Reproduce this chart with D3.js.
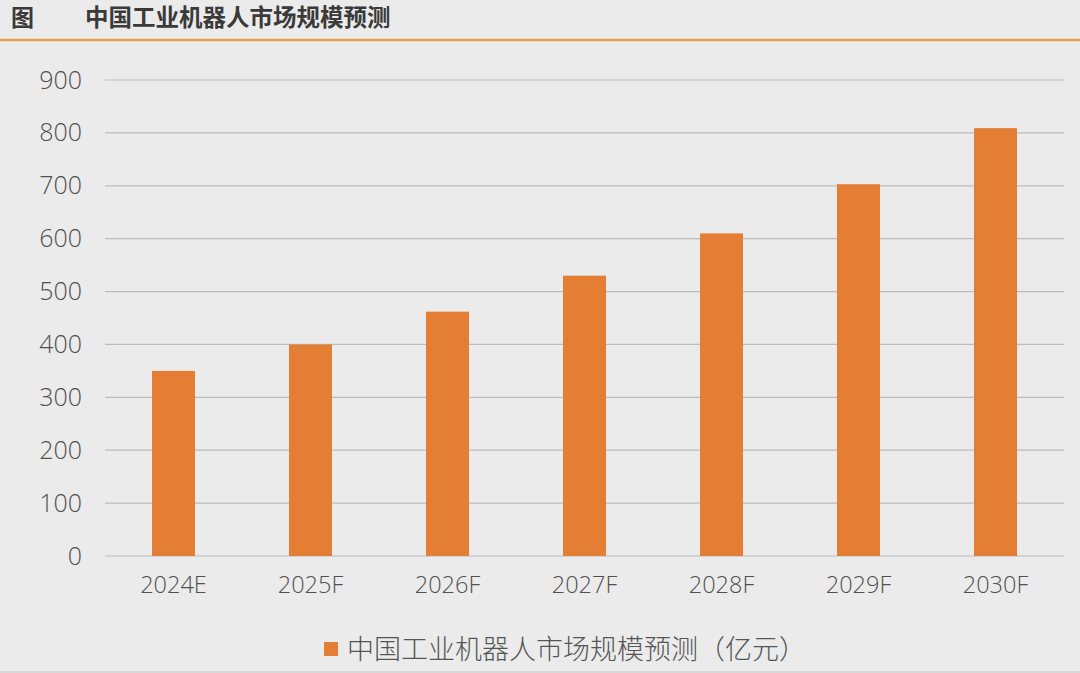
<!DOCTYPE html>
<html>
<head>
<meta charset="utf-8">
<script src="https://cdn.jsdelivr.net/npm/d3@7"></script>
<style>
  body { margin: 0; background: #ebebeb; }
  svg { display: block; }
  .tick text { font-family: 'Open Sans', 'Noto Sans', sans-serif; font-weight: 300; fill: #505050; }
</style>
</head>
<body>
<script>
	// DATA
	const categories = ['2024E', '2025F', '2026F', '2027F', '2028F', '2029F', '2030F'];
	const values = [350, 400, 462, 530, 610, 703, 809];
	const yTicks = [0, 100, 200, 300, 400, 500, 600, 700, 800, 900];
	const title = '中国工业机器人市场规模预测';
	const seriesName = '中国工业机器人市场规模预测（亿元）';

	// CONFIGURATION
	const width = 1080;
	const height = 673;
	const plotLeft = 105;
	const plotRight = 1064;
	const plotTop = 80;
	const plotBottom = 556;
	const barColor = '#e57e35';
	const cjk = "'Noto Sans CJK SC', sans-serif";

	const xScale = d3.scaleBand()
		.domain(categories)
		.range([plotLeft, plotRight])
		.paddingInner(0.686)
		.paddingOuter(0.343);
	const yScale = d3.scaleLinear()
		.domain([0, 900])
		.range([plotBottom, plotTop]);

	// SVG
	const svg = d3.select('body')
		.append('svg')
		.attr('width', width)
		.attr('height', height);

	svg.append('rect')
		.attr('width', width)
		.attr('height', height)
		.attr('fill', '#ebebeb');

	// TITLE
	svg.append('text')
		.text('图')
		.attr('x', 11)
		.attr('y', 26)
		.attr('font-family', cjk)
		.attr('font-weight', 'bold')
		.attr('font-size', 23)
		.attr('fill', '#3a3a3a');
	svg.append('text')
		.text(title)
		.attr('x', 85)
		.attr('y', 26)
		.attr('font-family', cjk)
		.attr('font-weight', 'bold')
		.attr('font-size', 23.5)
		.attr('fill', '#3a3a3a');
	svg.append('line')
		.attr('x1', 0)
		.attr('x2', width)
		.attr('y1', 40)
		.attr('y2', 40)
		.attr('stroke', '#dfa04e')
		.attr('stroke-width', 2.5);

	// GRIDLINES
	svg.append('g')
		.selectAll('line')
		.data(yTicks)
		.enter()
		.append('line')
		.attr('x1', plotLeft)
		.attr('x2', plotRight)
		.attr('y1', function(d) { return yScale(d); })
		.attr('y2', function(d) { return yScale(d); })
		.attr('stroke', '#bcbcbc')
		.attr('stroke-width', 1.2);

	// AXES
	const yAxis = d3.axisLeft(yScale)
		.tickValues(yTicks)
		.tickSize(0)
		.tickPadding(0);
	svg.append('g')
		.attr('transform', 'translate(82, 0)')
		.call(yAxis)
		.call(function(g) { g.select('.domain').remove(); })
		.selectAll('text')
		.attr('font-size', 25);

	const xAxis = d3.axisBottom(xScale)
		.tickSize(0)
		.tickPadding(0);
	svg.append('g')
		.attr('transform', `translate(0, ${plotBottom + 20})`)
		.call(xAxis)
		.call(function(g) { g.select('.domain').remove(); })
		.selectAll('text')
		.attr('font-size', 23.5);

	// BARS
	svg.append('g')
		.selectAll('rect')
		.data(values)
		.enter()
		.append('rect')
		.attr('x', function(d, i) { return xScale(categories[i]); })
		.attr('width', xScale.bandwidth())
		.attr('y', function(d) { return yScale(d); })
		.attr('height', function(d) { return plotBottom - yScale(d); })
		.attr('fill', barColor);

	// LEGEND
	const legend = svg.append('g');
	legend.append('rect')
		.attr('x', 324)
		.attr('y', 642)
		.attr('width', 14)
		.attr('height', 14)
		.attr('fill', barColor);
	legend.append('text')
		.text(seriesName)
		.attr('x', 347)
		.attr('y', 659)
		.attr('font-family', cjk)
		.attr('font-size', 27)
		.attr('font-weight', 300)
		.attr('fill', '#555');

	svg.append('line')
		.attr('x1', 0)
		.attr('x2', width)
		.attr('y1', 672)
		.attr('y2', 672)
		.attr('stroke', '#c8c8c8');
</script>
</body>
</html>
